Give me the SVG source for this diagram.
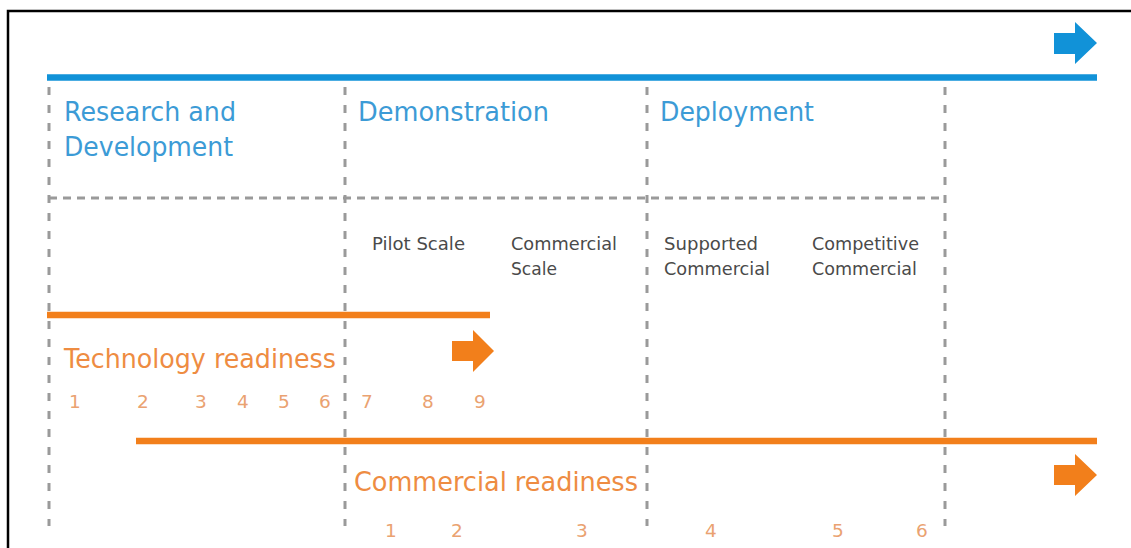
<svg xmlns="http://www.w3.org/2000/svg" width="1131" height="548" viewBox="0 0 1131 548">
  <style>
    .frame { fill: #ffffff; stroke: #000000; stroke-width: 2.5; }
    .vdash { stroke: #9a9a9a; stroke-width: 3; stroke-dasharray: 8 10; fill: none; }
    .hdash { stroke: #9a9a9a; stroke-width: 3; stroke-dasharray: 8 6; fill: none; }
    .blueline { stroke: #1192d8; stroke-width: 6.5; }
    .orangeline { stroke: #f27f1b; stroke-width: 6.5; }
    .bluearrow { fill: #1192d8; }
    .orangearrow { fill: #f27f1b; }
    .phase { font-family: "DejaVu Sans", sans-serif; font-size: 26px; fill: #3c9bd6; }
    .stage { font-family: "DejaVu Sans", sans-serif; font-size: 17.5px; fill: #4a4a4a; }
    .ready { font-family: "DejaVu Sans", sans-serif; font-size: 26px; fill: #ee8c42; }
    .num { font-family: "DejaVu Sans", sans-serif; font-size: 18.5px; fill: #eaa271; text-anchor: middle; }
  </style>
  <rect x="0" y="0" width="1131" height="548" fill="#ffffff"/>
  <rect class="frame" x="8" y="11" width="1130" height="545"/>

  <g id="connectors">
    <line class="vdash" x1="49" y1="87" x2="49" y2="526"/>
    <line class="vdash" x1="345" y1="87" x2="345" y2="526"/>
    <line class="vdash" x1="647" y1="87" x2="647" y2="526"/>
    <line class="vdash" x1="945" y1="87" x2="945" y2="526"/>
    <line class="hdash" x1="49" y1="198" x2="945" y2="198"/>
    <line class="blueline" x1="47" y1="77.5" x2="1097" y2="77.5"/>
    <line class="orangeline" x1="47" y1="315" x2="490" y2="315"/>
    <line class="orangeline" x1="136" y1="441" x2="1097" y2="441"/>
    <polygon class="bluearrow" points="1054,33 1075,33 1075,22 1097,43 1075,64 1075,54 1054,54"/>
    <polygon class="orangearrow" points="452,341 473,341 473,330 494,351 473,372 473,361 452,361"/>
    <polygon class="orangearrow" points="1054,465 1075,465 1075,454 1097,475 1075,496 1075,485 1054,485"/>
  </g>

  <g id="research">
    <text class="phase" x="64" y="121" textLength="172" lengthAdjust="spacingAndGlyphs">Research and</text>
    <text class="phase" x="64" y="156" textLength="169" lengthAdjust="spacingAndGlyphs">Development</text>
  </g>
  <g id="demonstration">
    <text class="phase" x="358" y="121" textLength="191" lengthAdjust="spacingAndGlyphs">Demonstration</text>
  </g>
  <g id="deployment">
    <text class="phase" x="660" y="121" textLength="154" lengthAdjust="spacingAndGlyphs">Deployment</text>
  </g>

  <g id="pilot-scale">
    <text class="stage" x="372" y="250" textLength="93" lengthAdjust="spacingAndGlyphs">Pilot Scale</text>
  </g>
  <g id="commercial-scale">
    <text class="stage" x="511" y="250" textLength="106" lengthAdjust="spacingAndGlyphs">Commercial</text>
    <text class="stage" x="511" y="275" textLength="46" lengthAdjust="spacingAndGlyphs">Scale</text>
  </g>
  <g id="supported-commercial">
    <text class="stage" x="664" y="250" textLength="94" lengthAdjust="spacingAndGlyphs">Supported</text>
    <text class="stage" x="664" y="275" textLength="106" lengthAdjust="spacingAndGlyphs">Commercial</text>
  </g>
  <g id="competitive-commercial">
    <text class="stage" x="812" y="250" textLength="107" lengthAdjust="spacingAndGlyphs">Competitive</text>
    <text class="stage" x="812" y="275" textLength="105" lengthAdjust="spacingAndGlyphs">Commercial</text>
  </g>

  <g id="technology-readiness">
    <text class="ready" x="64" y="368" textLength="272" lengthAdjust="spacingAndGlyphs">Technology readiness</text>
    <text class="num" x="75" y="408">1</text>
    <text class="num" x="143" y="408">2</text>
    <text class="num" x="201" y="408">3</text>
    <text class="num" x="243" y="408">4</text>
    <text class="num" x="284" y="408">5</text>
    <text class="num" x="325" y="408">6</text>
    <text class="num" x="367" y="408">7</text>
    <text class="num" x="428" y="408">8</text>
    <text class="num" x="480" y="408">9</text>
  </g>

  <g id="commercial-readiness">
    <text class="ready" x="354" y="491" textLength="284" lengthAdjust="spacingAndGlyphs">Commercial readiness</text>
    <text class="num" x="391" y="537">1</text>
    <text class="num" x="457" y="537">2</text>
    <text class="num" x="582" y="537">3</text>
    <text class="num" x="711" y="537">4</text>
    <text class="num" x="838" y="537">5</text>
    <text class="num" x="922" y="537">6</text>
  </g>
</svg>
